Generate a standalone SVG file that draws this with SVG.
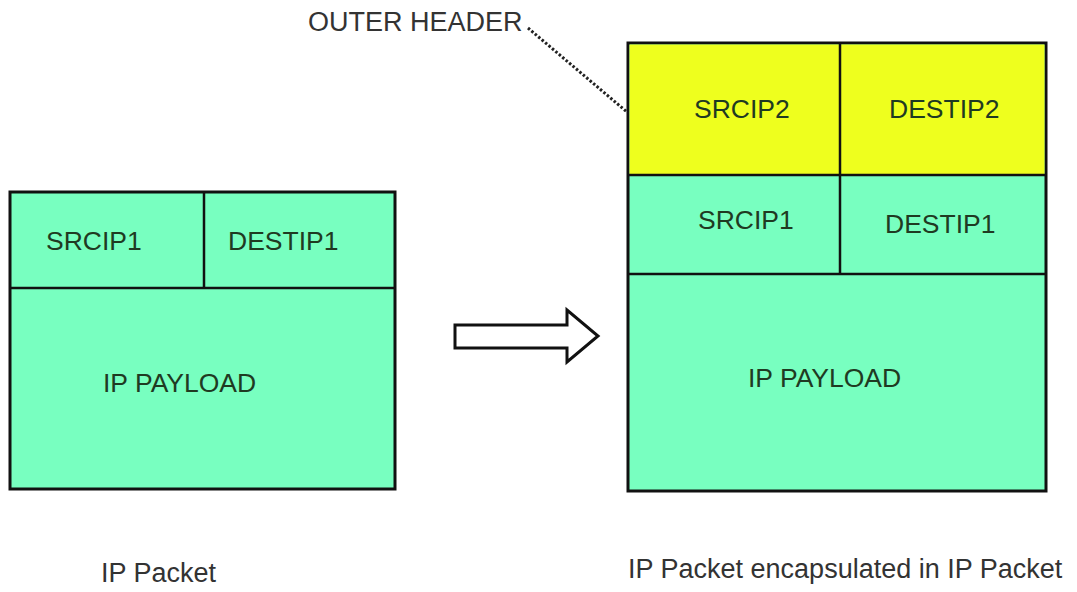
<svg xmlns="http://www.w3.org/2000/svg" width="1077" height="592" viewBox="0 0 1077 592">
<style>
.box{stroke:#111;stroke-width:3}
.g{fill:#78ffc0}
.y{fill:#eeff1e}
.ln{stroke:#111;stroke-width:2.5;fill:none}
.lbl{font-family:"Liberation Sans",Arial,sans-serif;font-size:26.5px;fill:#1f3a22}
.cap{font-family:"Liberation Sans",Arial,sans-serif;font-size:27px;fill:#333}
</style>
<rect width="1077" height="592" fill="#fff"/>
<g id="ip-packet">
<rect class="box g" x="10" y="192" width="385" height="297"/>
<line class="ln" x1="10" y1="288" x2="395" y2="288"/>
<line class="ln" x1="204" y1="192" x2="204" y2="288"/>
<text class="lbl" x="46" y="250">SRCIP1</text>
<text class="lbl" x="228" y="250">DESTIP1</text>
<text class="lbl" x="103" y="392">IP PAYLOAD</text>
</g>
<g id="encapsulated-packet">
<rect class="box g" x="628" y="43" width="418" height="448"/>
<rect class="y" x="629.5" y="44.5" width="415" height="130"/>
<line class="ln" x1="628" y1="175" x2="1046" y2="175"/>
<line class="ln" x1="628" y1="274" x2="1046" y2="274"/>
<line class="ln" x1="840" y1="43" x2="840" y2="274"/>
<text class="lbl" x="694" y="118">SRCIP2</text>
<text class="lbl" x="889" y="118">DESTIP2</text>
<text class="lbl" x="698" y="229">SRCIP1</text>
<text class="lbl" x="885" y="233">DESTIP1</text>
<text class="lbl" x="748" y="387">IP PAYLOAD</text>
</g>
<g id="outer-header-label">
<text class="cap" x="308" y="31">OUTER HEADER</text>
</g>
<g id="connectors">
<line x1="528" y1="28" x2="627" y2="112" stroke="#222" stroke-width="3" stroke-dasharray="2.5 2"/>
<polygon points="455,325 567,325 567,310 598,336 567,362 567,348 455,348" fill="#fff" stroke="#111" stroke-width="3" stroke-linejoin="miter"/>
</g>
<g id="captions">
<text class="cap" x="101" y="582">IP Packet</text>
<text class="cap" x="628" y="578">IP Packet encapsulated in IP Packet</text>
</g>
</svg>
